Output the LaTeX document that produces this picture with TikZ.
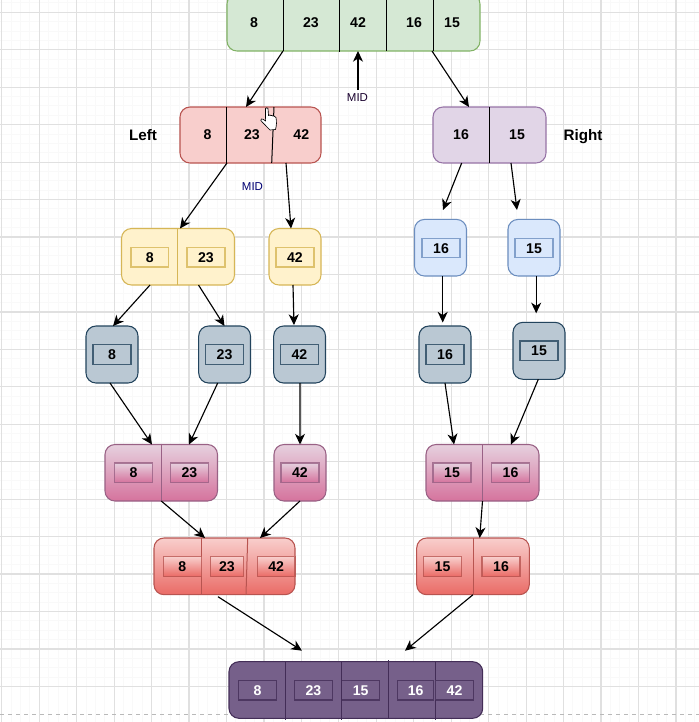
\documentclass[tikz,border=0pt]{standalone}
\usepackage{fontspec}
\setmainfont{Liberation Sans}
\usetikzlibrary{arrows.meta,calc}
\definecolor{gridmaj}{HTML}{E0E0E0}
\definecolor{gridmin}{HTML}{F9F9F9}
\tikzset{
  x=0.75pt,y=-0.75pt,
  box/.style={draw,line width=0.8pt,rounded corners=7.5pt,anchor=north west,inner sep=0pt,outer sep=0pt},
  inbox/.style={draw,draw opacity=0.8,line width=1pt,anchor=north west,inner sep=0pt,outer sep=0pt,minimum height=14.6pt},
  val/.style={font=\bfseries\fontsize{10.6}{12}\selectfont,inner sep=0pt},
  lbl/.style={font=\bfseries\fontsize{11.4}{13}\selectfont,inner sep=0pt},
  midl/.style={font=\fontsize{8.6}{10}\selectfont,inner sep=0pt},
  conn/.style={draw=black,line width=0.85pt,-{Stealth[length=8pt,width=7.5pt,inset=2.4pt]}},
  divider/.style={line width=0.75pt},
  greenb/.style={fill=gfill,draw=gline},
  redb/.style={fill=rfill,draw=rline},
  purpb/.style={fill=pfill,draw=pline},
  yellb/.style={fill=yfill,draw=yline},
  blueb/.style={fill=bfill,draw=bline},
  greyb/.style={fill=sfill,draw=sline},
  pinkb/.style={top color=ktop,bottom color=kbot,draw=kline},
  salmb/.style={top color=mtop,bottom color=mbot,draw=mline},
  darkb/.style={fill=dfill,draw=dline},
}
\definecolor{gfill}{HTML}{D5E8D4}\definecolor{gline}{HTML}{82B366}
\definecolor{rfill}{HTML}{F8CECC}\definecolor{rline}{HTML}{B85450}
\definecolor{pfill}{HTML}{E1D5E7}\definecolor{pline}{HTML}{9673A6}
\definecolor{yfill}{HTML}{FFF2CC}\definecolor{yline}{HTML}{D6B656}
\definecolor{bfill}{HTML}{DAE8FC}\definecolor{bline}{HTML}{6C8EBF}
\definecolor{sfill}{HTML}{BAC8D3}\definecolor{sline}{HTML}{23445D}
\definecolor{ktop}{HTML}{E6D0DE}\definecolor{kbot}{HTML}{D5739D}\definecolor{kline}{HTML}{996185}
\definecolor{mtop}{HTML}{F8CECC}\definecolor{mbot}{HTML}{EA6B66}\definecolor{mline}{HTML}{B85450}
\definecolor{dfill}{HTML}{76608A}\definecolor{dline}{HTML}{432D57}
% \bx{name}{style}{x0}{y0}{x1}{y1}
\newcommand{\bx}[6]{\node[box,#2,minimum width={(#5-#3)*0.75pt},minimum height={(#6-#4)*0.75pt}] (#1) at (#3,#4) {};}
% \ib{name}{style}{x0}{y0}{x1}{value}
\newcommand{\ib}[6]{\node[inbox,#2,minimum width={(#5-#3)*0.75pt}] (#1) at (#3,#4) {};\node[val] (#1t) at ($(#1.center)+(0,0.3)$) {#6};}
\begin{document}
\begin{tikzpicture}
\useasboundingbox (0,0) rectangle (699,722);
\fill[white] (0,0) rectangle (699,722);
\begin{scope}
\clip (0,0) rectangle (699,722);
% grid
\foreach \k in {-1,...,75}{
  \draw[gridmin,line width=0.75pt] ({39.3+9.3625*\k-9.3625*4},0) -- ++(0,722);
  \draw[gridmin,line width=0.75pt] (0,{12.3+9.3625*\k-9.3625*4}) -- ++(699,0);
}
\foreach \k in {0,...,18}{
  \draw[gridmaj,line width=0.9pt] ({1.8+37.45*\k},0) -- ++(0,722);
  \draw[gridmaj,line width=0.9pt] (0,{12.3+37.45*\k}) -- ++(699,0);
}
\draw[gray!55,line width=0.6pt,dash pattern=on 3pt off 3pt] (0,714) -- (699,714);

% row 0 green
\bx{g}{greenb}{227}{-6}{480}{51}
\draw[divider] (283,-6) -- (283,51);
\draw[divider] (339.4,-6) -- (339.4,52);
\draw[divider] (386.4,-6) -- (386.4,51);
\draw[divider] (433,-6) -- (433,51);
\node[val] (g1) at (254,22.7) {8};
\node[val] (g2) at (311,22.7) {23};
\node[val] (g3) at (358,22.7) {42};
\node[val] (g4) at (414,22.7) {16};
\node[val] (g5) at (452,22.7) {15};

% row 1
\bx{r}{redb}{180}{107}{321}{163}
\draw[divider] (226.8,107) -- (226.8,163);
\draw[divider] (274,107) -- (271.7,163);
\node[val] (r1) at (207.5,135) {8};
\node[val] (r2) at (252,135) {23};
\node[val] (r3) at (301.3,135) {42};
\bx{p}{purpb}{433}{107}{546}{163}
\draw[divider] (489.5,107) -- (489.5,163);
\node[val] (p1) at (461,135) {16};
\node[val] (p2) at (517,135) {15};
\node[lbl] (left) at (143,135) {Left};
\node[lbl] (right) at (583,136.8) {Right};
\node[midl,text=black!80!blue!90!red] (mid1) at (357.5,98) {MID};
\node[midl,text=blue!45!black] (mid2) at (252.5,187) {MID};

% row 2
\bx{y}{yellb}{121.5}{228.5}{234.5}{285}
\draw[divider,yline] (177.7,228.5) -- (177.7,285);
\ib{y1}{yellb}{131}{247.4}{168.6}{8}
\ib{y2}{yellb}{187}{247.4}{225}{23}
\bx{yy}{yellb}{269}{228.5}{321}{285}
\ib{y3}{yellb}{276}{247.4}{314}{42}
\bx{b1}{blueb}{414.5}{219.4}{466.5}{276}
\ib{b1i}{blueb}{422}{238.2}{460}{16}
\bx{b2}{blueb}{508}{219.4}{560}{276}
\ib{b2i}{blueb}{515}{238.2}{553}{15}

% row 3
\bx{s1}{greyb}{86}{326}{138}{383}
\ib{s1i}{greyb}{93}{344.8}{131}{8}
\bx{s2}{greyb}{198.7}{326}{250.5}{383}
\ib{s2i}{greyb}{205.6}{344.8}{243.6}{23}
\bx{s3}{greyb}{273.7}{326}{325.5}{383}
\ib{s3i}{greyb}{280.5}{344.8}{318.5}{42}
\bx{s4}{greyb}{419}{326}{471}{383}
\ib{s4i}{greyb}{426}{344.8}{464}{16}
\bx{s5}{greyb}{513}{322.3}{565}{379.3}
\ib{s5i}{greyb}{520}{341}{558}{15}

% row 4
\bx{k}{pinkb}{105}{444.5}{217.5}{501}
\draw[divider,kline] (161.5,444.5) -- (161.5,501);
\ib{k1}{pinkb}{114.5}{463}{152.5}{8}
\ib{k2}{pinkb}{170.3}{463}{208.5}{23}
\bx{kk}{pinkb}{274}{444.5}{326}{501}
\ib{k3}{pinkb}{281}{463}{319}{42}
\bx{kr}{pinkb}{426}{444.5}{539}{501}
\draw[divider,kline] (482.7,444.5) -- (482.7,501);
\ib{k4}{pinkb}{433}{463}{471}{15}
\ib{k5}{pinkb}{491.5}{463}{529.5}{16}

% row 5
\bx{m}{salmb}{154}{538}{295}{594.7}
\draw[divider,mline] (201.3,538) -- (201.3,594.7);
\draw[divider,mline] (247.7,538) -- (246,594.7);
\ib{m1}{salmb}{163.3}{556.8}{201.3}{8}
\ib{m2}{salmb}{210.3}{556.8}{243.7}{23}
\ib{m3}{salmb}{257.3}{556.8}{295}{42}
\bx{mr}{salmb}{416.7}{538}{529.3}{594.7}
\draw[divider,mline] (473,538) -- (473,594.7);
\ib{m4}{salmb}{423.3}{556.8}{461.7}{15}
\ib{m5}{salmb}{482}{556.8}{520}{16}

% row 6
\bx{d}{darkb}{229}{661.7}{482.7}{718.3}
\draw[divider,dline] (285.5,661.7) -- (285.5,720);
\draw[divider,dline] (341.7,661.7) -- (341.7,720);
\draw[divider,dline] (388.7,660) -- (388.7,718.3);
\draw[divider,dline] (435.3,661.7) -- (435.3,720);
\tikzset{val/.append style={text=white}}
\ib{d1}{darkb}{238.3}{680.4}{276.7}{8}
\ib{d2}{darkb}{294.3}{680.4}{332.7}{23}
\ib{d3}{darkb}{341.7}{680.4}{379.7}{15}
\ib{d4}{darkb}{397.7}{680.4}{433.7}{16}
\ib{d5}{darkb}{435.3}{680.4}{473.7}{42}

% connectors
\path[conn] ($(g.south west)+(56,0)$) -- ($(r.north west)+(66,0)$);
\path[conn] ($(mid1.north)+(0.5,-4)$) -- ($(g.south west)+(131,0)$);
\path[conn] ($(g.south west)+(205,0)$) -- ($(p.north west)+(36,0)$);
\path[conn] ($(r.south west)+(47,0)$) -- ($(y.north west)+(58.5,0)$);
\path[conn] ($(r.south west)+(106,0)$) -- ($(yy.north west)+(22,0)$);
\path[conn] ($(p.south west)+(28.7,0)$) -- ($(b1.north west)+(28.5,-9.4)$);
\path[conn] ($(p.south west)+(78,0)$) -- ($(b2.north west)+(9,-9.4)$);
\path[conn] ($(y.south west)+(28.5,0)$) -- ($(s1.north west)+(27,0)$);
\path[conn] ($(y.south west)+(77,0)$) -- ($(s2.north west)+(25.8,0)$);
\path[conn] ($(yy.south west)+(24,0)$) -- ($(s3.north west)+(20.3,-1)$);
\path[conn] ($(b1.south west)+(28.2,0)$) -- ($(s4.north west)+(23.7,-3.5)$);
\path[conn] ($(b2.south west)+(28.2,0)$) -- ($(s5.north west)+(23.2,-9)$);
\path[conn] ($(s1.south west)+(24,0)$) -- ($(k.north west)+(47,0)$);
\path[conn] ($(s2.south west)+(19,0)$) -- ($(k.north west)+(84,0)$);
\path[conn] ($(s3.south west)+(26.3,0)$) -- ($(kk.north west)+(26,0)$);
\path[conn] ($(s4.south west)+(26,0)$) -- ($(kr.north west)+(28,0)$);
\path[conn] ($(s5.south west)+(25.3,0)$) -- ($(kr.north west)+(85,0)$);
\path[conn] (k.south) -- ($(m.north west)+(51,0)$);
\path[conn] (kk.south) -- ($(m.north west)+(106,0)$);
\path[conn] (kr.south) -- ($(mr.north west)+(63,0)$);
\path[conn] ($(m.south west)+(64,2)$) -- ($(d.north west)+(73,-11)$);
\path[conn] ($(mr.south west)+(56.3,0)$) -- ($(d.north west)+(176,-11)$);

% hand cursor
\draw[fill=white,line width=0.5pt,line join=round]
  (265.5,108.5) .. controls (266,107.5) and (267.5,107.5) .. (268,108.5)
  -- (268.5,115.5) -- (270,115) -- (271,115.5) -- (272,115.5) -- (273,116) -- (274,116) -- (276,117.5)
  .. controls (276.8,122) and (276.5,126) .. (275.5,129.5)
  -- (270,130) .. controls (267,127) and (264,124) .. (260.8,120.5)
  .. controls (260.5,119) and (262,118.5) .. (263,119.2) -- (265.6,121) -- cycle;
\end{scope}
\end{tikzpicture}
\end{document}
